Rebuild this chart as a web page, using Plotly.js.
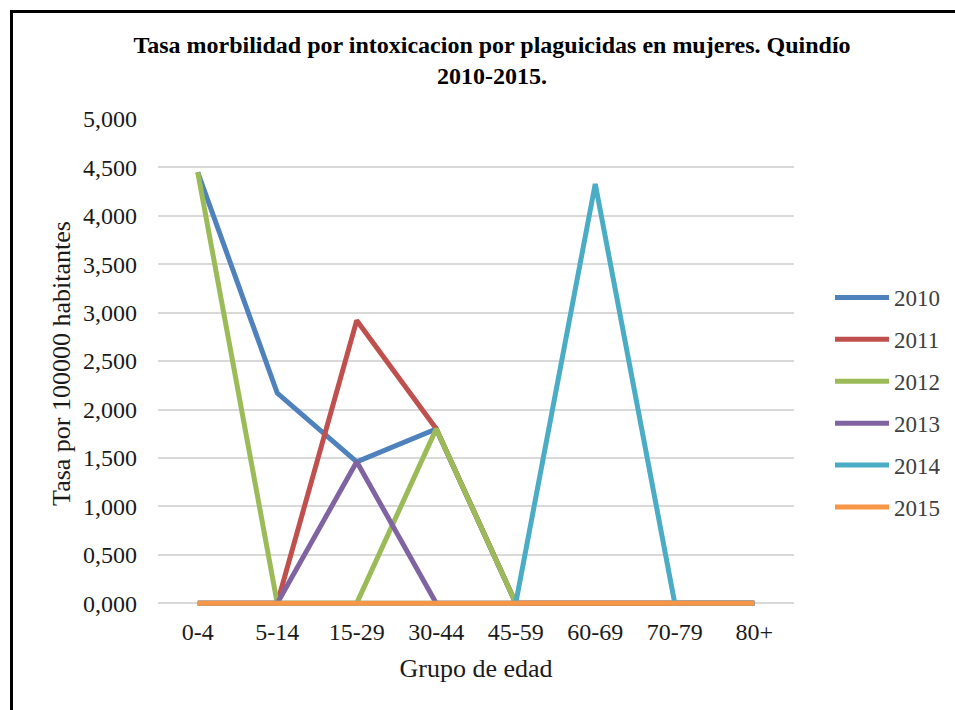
<!DOCTYPE html>
<html>
<head>
<meta charset="utf-8">
<script src="https://cdn.plot.ly/plotly-3.0.1.min.js"></script>
<style>
  html, body { margin: 0; padding: 0; background: #ffffff; }
  #chart { width: 955px; height: 710px; }
</style>
</head>
<body>
<div id="chart"></div>
<script>
// Age groups (x categories)
const grupos = ["0-4", "5-14", "15-29", "30-44", "45-59", "60-69", "70-79", "80+"];

// Morbidity rate per 100000 inhabitants, one array per year
const anios = ["2010", "2011", "2012", "2013", "2014", "2015"];
const tasa2010 = [4.45, 2.17, 1.46, 1.80, 0, 0, 0, 0];
const tasa2011 = [0, 0, 2.92, 1.80, 0, 0, 0, 0];
const tasa2012 = [4.45, 0, 0, 1.80, 0, 0, 0, 0];
const tasa2013 = [0, 0, 1.46, 0, 0, 0, 0, 0];
const tasa2014 = [0, 0, 0, 0, 0, 4.33, 0, 0];
const tasa2015 = [0, 0, 0, 0, 0, 0, 0, 0];

// Y axis ticks
const yTicks = [0, 0.5, 1, 1.5, 2, 2.5, 3, 3.5, 4, 4.5, 5];

const series = [tasa2010, tasa2011, tasa2012, tasa2013, tasa2014, tasa2015];
const colores = ["#4F81BD", "#C0504D", "#9BBB59", "#8064A2", "#4BACC6", "#F79646"];

const serif = "Liberation Serif, Times New Roman, serif";

const traces = series.map((vals, i) => ({
  type: "scatter",
  mode: "lines",
  x: grupos,
  y: vals,
  name: anios[i],
  legendgroup: anios[i],
  line: { color: colores[i], width: 5 },
  hoverinfo: "x+y+name"
}));

// Plot geometry in pixels: value 0 sits at Y0, value 5 at T.
// A small pad below zero keeps the full width of lines lying on 0 visible.
const L = 158, R = 794, T = 119, Y0 = 603;
const yMin = -0.05, yMax = 5;
const pxPerUnit = (Y0 - T) / yMax;
const B = Y0 - yMin * pxPerUnit;
const px = v => (v - L) / (R - L);
const py = v => (B - v) / (B - T);

const layout = {
  width: 955,
  height: 710,
  paper_bgcolor: "#ffffff",
  plot_bgcolor: "#ffffff",
  separators: ",.",
  margin: { l: L, r: 955 - R, t: T, b: 710 - B, pad: 0 },
  font: { family: serif, color: "#1a1a1a" },
  title: {
    text: "Tasa morbilidad por intoxicacion por plaguicidas en mujeres. Quindío<br>2010-2015.",
    font: { family: serif, size: 24, weight: "bold", color: "#000000" },
    xref: "container", yref: "container",
    x: 492 / 955, xanchor: "center",
    y: 1 - 53 / 710, yanchor: "middle"
  },
  xaxis: {
    type: "category",
    range: [-0.5, grupos.length - 0.5],
    showgrid: false,
    zeroline: false,
    showline: false,
    ticks: "",
    ticklabelstandoff: 7,
    tickfont: { family: serif, size: 24, color: "#1a1a1a" },
    title: { text: "Grupo de edad", font: { family: serif, size: 26, color: "#1a1a1a" }, standoff: 14 },
    fixedrange: true
  },
  yaxis: {
    range: [yMin, yMax],
    tickvals: yTicks,
    tickformat: ".3f",
    showgrid: true,
    gridcolor: "#D9D9D9",
    gridwidth: 1.5,
    zeroline: true,
    zerolinecolor: "#D9D9D9",
    zerolinewidth: 1.5,
    showline: false,
    ticks: "",
    ticklabelstandoff: 20,
    tickfont: { family: serif, size: 24, color: "#1a1a1a" },
    title: { text: "Tasa por 100000 habitantes", font: { family: serif, size: 26, color: "#1a1a1a" }, standoff: 4 },
    fixedrange: true
  },
  legend: {
    x: 830 / 955, xref: "container", xanchor: "left",
    y: 1 - 276 / 710, yref: "container", yanchor: "top",
    font: { family: serif, size: 23, color: "#404040" },
    itemwidth: 54,
    tracegroupgap: 9,
    bgcolor: "rgba(0,0,0,0)",
    borderwidth: 0
  },
  showlegend: true,
  shapes: [
    {
      type: "path",
      xref: "paper", yref: "paper",
      path: `M ${px(1100)},${py(11.5)} L ${px(11.5)},${py(11.5)} L ${px(11.5)},${py(800)}`,
      line: { color: "#000000", width: 3 },
      layer: "above"
    }
  ]
};

Plotly.newPlot("chart", traces, layout, { displayModeBar: false, responsive: false });
</script>
</body>
</html>
